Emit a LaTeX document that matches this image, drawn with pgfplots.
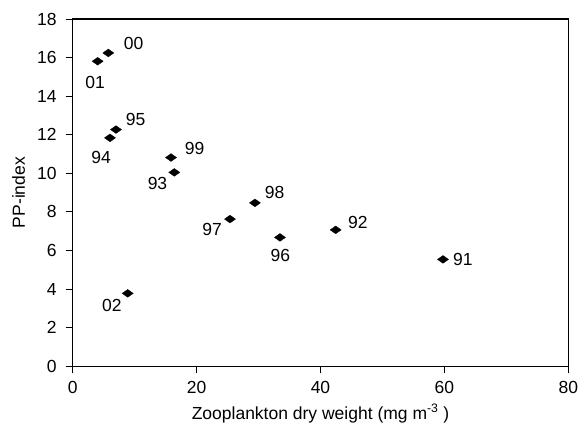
\documentclass[border=0pt]{standalone}
\usepackage{pgfplots}
\pgfplotsset{compat=1.18}
\usepackage{fontspec}
\setmainfont{Liberation Sans}
\begin{document}
\fontsize{17.5}{21}\selectfont
\begin{tikzpicture}
\begin{axis}[
  scale only axis,
  width=495.6pt, height=347.3pt,
  xmin=0, xmax=80, ymin=0, ymax=18,
  xtick={0,20,40,60,80}, ytick={0,2,...,18},
  tick align=outside, tick style={black, line width=0.9pt},
  major tick length=7pt,
  axis line style={line width=1.1pt},
  xtick pos=bottom, ytick pos=left,
  /pgf/number format/assume math mode=true,
  xlabel={Zooplankton dry weight (mg m\textsuperscript{-3} )},
  ylabel={PP-index},
  ticklabel style={font=\fontsize{17.5}{21}\selectfont, inner sep=0pt},
  xticklabel style={yshift=-7.7pt},
  yticklabel style={xshift=-9pt},
  label style={font=\fontsize{17.5}{21}\selectfont, inner sep=0pt},
  xlabel style={at={(axis description cs:0.5,0)}, anchor=base, yshift=-52.7pt},
  ylabel style={at={(axis description cs:0,0.5)}, anchor=base, yshift=47.7pt},
  clip=false,
]
\addplot[only marks, mark=diamond*, mark size=3.9pt, mark options={black, line width=0.3pt, xscale=1.9},
  point meta=explicit symbolic,
  visualization depends on={\thisrow{dx}\as\dx},
  visualization depends on={\thisrow{dy}\as\dy},
  nodes near coords,
  every node near coord/.append style={anchor=center, inner sep=0pt, xshift=\dx pt, yshift=\dy pt, font=\fontsize{17.5}{21}\selectfont},
] table[meta=lab] {
x y lab dx dy
4.03 15.81 01 -2.5 -21.2
5.75 16.24 00 25.4 9.4
6.99 12.27 95 19.5 10
6.02 11.84 94 -8.8 -19.3
15.87 10.82 99 23.7 9.1
16.40 10.05 93 -16.8 -10.7
29.42 8.47 98 19.7 10.7
25.39 7.63 97 -17.8 -10.7
33.46 6.68 96 0.3 -17.7
8.88 3.78 02 -15.9 -11.7
42.45 7.07 92 22.3 7
59.77 5.54 91 20 0
};
\end{axis}
\path (current axis.south west) ++(-72.7pt,-59.7pt) coordinate (bbA);
\path (current axis.north east) ++(10.7pt,19pt) coordinate (bbB);
\path (bbA) rectangle (bbB);
\end{tikzpicture}
\end{document}
